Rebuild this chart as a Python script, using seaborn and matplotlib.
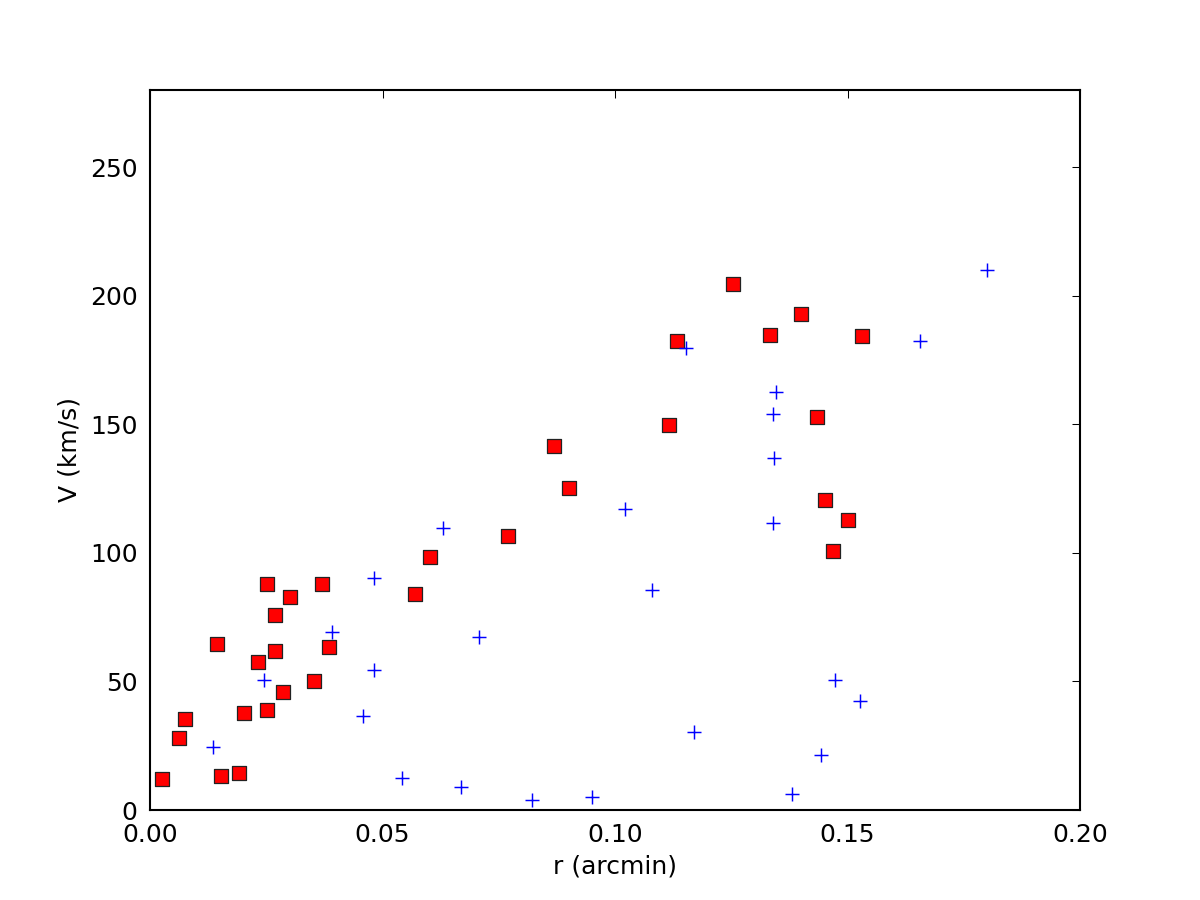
import matplotlib
matplotlib.use("Agg")
import matplotlib.pyplot as plt
import seaborn as sns
import pandas as pd

# Red squares (r in arcmin, V in km/s)
sq_r = [0.0026, 0.0062, 0.0075, 0.0144, 0.0153, 0.0191, 0.0202, 0.0233, 0.0252, 0.0252,
        0.0268, 0.0268, 0.0285, 0.0302, 0.0353, 0.0369, 0.0385, 0.0570, 0.0602, 0.0769,
        0.0869, 0.0902, 0.1117, 0.1133, 0.1253, 0.1333, 0.1401, 0.1434, 0.1452, 0.1501,
        0.1469, 0.1532]
sq_v = [12.1, 27.9, 35.4, 64.6, 13.2, 14.4, 37.7, 57.6, 87.9, 38.9,
        75.8, 61.8, 45.9, 82.8, 50.2, 87.9, 63.4, 84.0, 98.4, 106.6,
        141.6, 125.2, 149.7, 182.4, 204.6, 184.7, 192.9, 152.8, 120.6, 112.8,
        100.7, 184.3]

# Blue crosses
cr_r = [0.0136, 0.0246, 0.0392, 0.0459, 0.0482, 0.0482, 0.0543, 0.0631, 0.0669, 0.0708,
        0.0822, 0.0951, 0.1021, 0.1079, 0.1153, 0.1169, 0.1347, 0.1340, 0.1343, 0.1340,
        0.1381, 0.1443, 0.1473, 0.1527, 0.1656, 0.1800]
cr_v = [24.4, 50.6, 69.1, 36.6, 90.3, 54.6, 12.6, 109.5, 9.0, 67.4,
        3.9, 5.1, 117.2, 85.5, 179.8, 30.2, 162.6, 153.9, 137.0, 111.6,
        6.1, 21.3, 50.4, 42.3, 182.4, 210.0]

x_ticks = [0.0, 0.05, 0.10, 0.15, 0.20]
x_labels = ["0.00", "0.05", "0.10", "0.15", "0.20"]
y_ticks = [0, 50, 100, 150, 200, 250]
y_labels = ["0", "50", "100", "150", "200", "250"]

sns.set_style("white")
plt.rcParams.update({
    "font.family": ["DejaVu Sans"],
    "font.size": 12,
    "xtick.direction": "in",
    "ytick.direction": "in",
    "xtick.top": True,
    "ytick.right": True,
    "xtick.major.size": 4,
    "ytick.major.size": 4,
    "xtick.major.width": 0.5,
    "ytick.major.width": 0.5,
    "xtick.labelsize": 12,
    "ytick.labelsize": 12,
    "axes.labelsize": 12,
    "axes.edgecolor": "black",
    "axes.linewidth": 1.0,
    "xtick.color": "black",
    "ytick.color": "black",
    "text.color": "black",
    "axes.labelcolor": "black",
})

fig = plt.figure(figsize=(8, 6), dpi=150)
ax = fig.add_axes([0.125, 0.1, 0.775, 0.8])

df_sq = pd.DataFrame({"r": sq_r, "V": sq_v})
df_cr = pd.DataFrame({"r": cr_r, "V": cr_v})

sns.scatterplot(data=df_sq, x="r", y="V", marker="s", s=40, color="red",
                edgecolor="#222222", linewidth=0.6, ax=ax, zorder=3)
sns.scatterplot(data=df_cr, x="r", y="V", marker="+", s=45, color="blue",
                linewidth=0.7, ax=ax, zorder=4)

ax.set_xlim(0, 0.2)
ax.set_ylim(0, 280)
ax.set_xticks(x_ticks)
ax.set_xticklabels(x_labels)
ax.set_yticks(y_ticks)
ax.set_yticklabels(y_labels)
ax.tick_params(axis="both", which="major", pad=6)
ax.set_xlabel("r (arcmin)")
ax.set_ylabel("V (km/s)")
for s in ax.spines.values():
    s.set_visible(True)
    s.set_color("black")

fig.savefig("out.png", dpi=150)
